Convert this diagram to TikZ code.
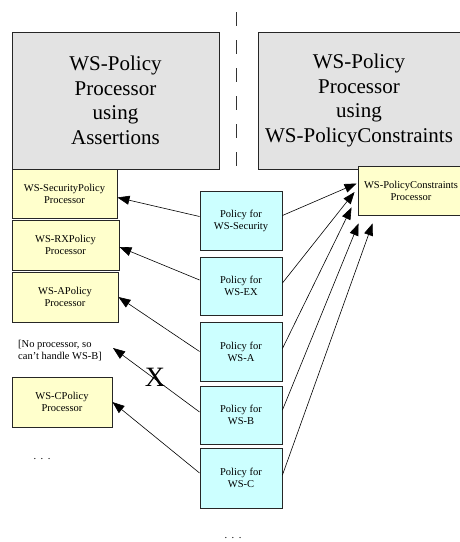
\documentclass[tikz,border=0pt]{standalone}
\usepackage{fontspec}
\setmainfont{Liberation Serif}
\usetikzlibrary{arrows.meta,calc}
\definecolor{procgray}{HTML}{E3E3E3}
\definecolor{procyellow}{HTML}{FFFFCC}
\definecolor{polcyan}{HTML}{CCFFFF}

\begin{document}
\begin{tikzpicture}[x=1pt,y=-1pt,
		bigproc/.style={draw=black!85,fill=procgray,line width=0.9pt,align=center,inner sep=0pt,font=\fontsize{21}{24.5}\selectfont},
		proc/.style={draw=black!85,fill=procyellow,line width=0.9pt,align=center,inner sep=0pt,font=\fontsize{10.5}{12}\selectfont},
		policy/.style={draw=black!85,fill=polcyan,line width=0.9pt,align=center,inner sep=0pt,minimum width=82pt,font=\fontsize{10.5}{12}\selectfont},
		link/.style={line width=0.6pt,-{Triangle[length=12pt,width=9pt]}}]

		\useasboundingbox (0,0) rectangle (459,542);

		% the two processors
		\node[bigproc,minimum width=207pt,minimum height=137pt] (assert) at (115.5,100.5) {WS-Policy\\Processor\\using\\Assertions};
		\node[bigproc,minimum width=202pt,minimum height=137pt] (constr) at (359,100.5) {WS-Policy\\Processor\\using\\WS-PolicyConstraints};
		\draw [line width=0.8pt,black!80][dash pattern=on 14pt off 14pt] (236,12) -- (236,176);

		% domain processors
		\node[proc,minimum width=105pt,minimum height=49pt] (secproc) at (64.5,193.5) {WS-SecurityPolicy\\Processor};
		\node[proc,minimum width=107pt,minimum height=50pt] (rxproc) at (65.5,245) {WS-RXPolicy\\Processor};
		\node[proc,minimum width=106pt,minimum height=50pt] (aproc) at (65,297) {WS-APolicy\\Processor};
		\node[proc,minimum width=100pt,minimum height=50pt] (cproc) at (62,402) {WS-CPolicy\\Processor};
		\node[proc,minimum width=106pt,minimum height=49pt] (consproc) at (411,190.5) {WS-PolicyConstraints\\Processor};
		\node[align=left,anchor=west,inner sep=0pt,font=\fontsize{10.5}{12}\selectfont] (noproc) at (18,351) {[No processor, so\\can't handle WS-B]};
		\node[font=\fontsize{10.5}{12}\selectfont] (moreproc) at (42,459) {.\hspace{4.5pt}.\hspace{4.5pt}.};
		\coordinate (noend) at (113,348);

		% policies
		\node[policy,minimum height=59pt] (psec) at (241,220.5) {Policy for\\WS-Security};
		\node[policy,minimum height=58pt] (pex) at (241,286) {Policy for\\WS-EX};
		\node[policy,minimum height=59pt] (pa) at (241,351.5) {Policy for\\WS-A};
		\node[policy,minimum height=58pt] (pb) at (241,415) {Policy for\\WS-B};
		\node[policy,minimum height=60pt] (pc) at (241,478) {Policy for\\WS-C};
		\node[font=\fontsize{10.5}{12}\selectfont] (morepol) at (233,538) {.\hspace{4.5pt}.\hspace{4.5pt}.};

		% assertion based
		\draw [link] ($(psec.west)+(0,-4)$) -- ($(secproc.east)+(0,4)$);
		\draw [link] ($(pex.west)+(0,-6)$) -- ($(rxproc.east)+(0,2)$);
		\draw [link] (pa.west) -- (aproc.east);
		\draw [link] ($(pb.west)+(0,-3)$) -- (noend);
		\draw [link] ($(pc.west)+(0,-5)$) -- (cproc.east);
		\node[font=\fontsize{28}{28}\selectfont,inner sep=0pt] (cross) at (155,377) {X};

		% constraint based
		\draw [link] ($(psec.east)+(0,-5)$) -- ($(consproc.west)+(-1,-7)$);
		\draw [link] ($(pex.east)+(0,-3)$) -- ($(consproc.west)+(-3,1.5)$);
		\draw [link] ($(pa.east)+(0,-3)$) -- ($(consproc.south west)+(-6,-8)$);
		\draw [link] ($(pb.east)+(0,-5)$) -- ($(consproc.south west)+(1,8)$);
		\draw [link] ($(pc.east)+(0,-3)$) -- ($(consproc.south west)+(15,8)$);

	\end{tikzpicture}
\end{document}
